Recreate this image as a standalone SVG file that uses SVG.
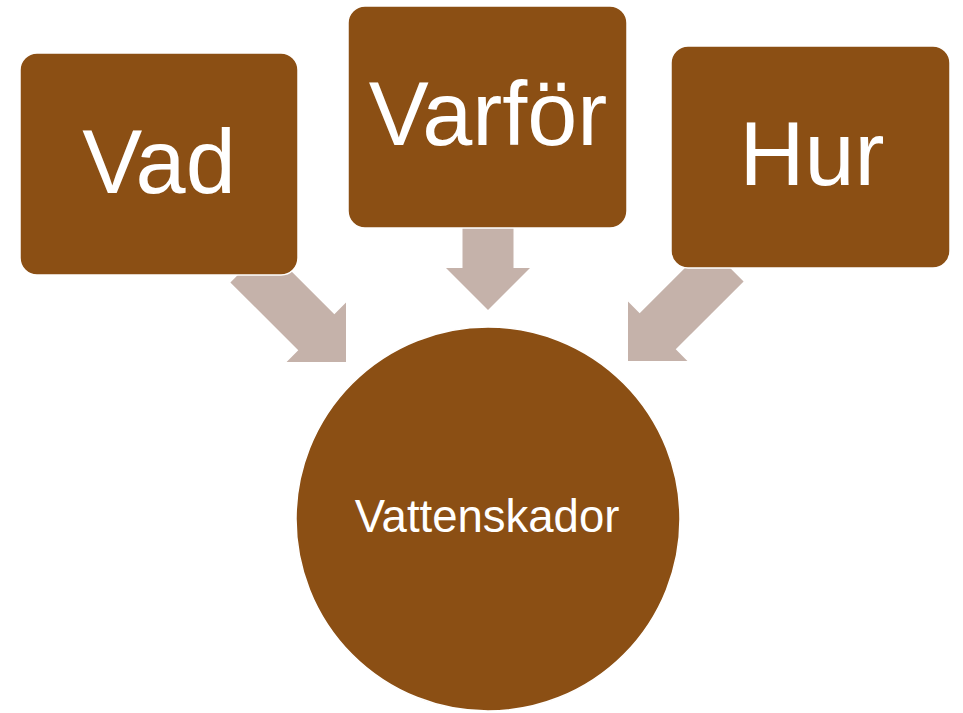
<svg xmlns="http://www.w3.org/2000/svg" width="963" height="713" viewBox="0 0 963 713">
  <defs>
    <style>
      .box { fill: #8B4F14; stroke: #FFFFFF; stroke-width: 1.5; }
      .arrow { fill: #C5B2AA; }
      .big { font-family: "Liberation Sans", Arial, sans-serif; font-size: 90px; fill: #FFFFFF; text-anchor: middle; }
      .mid { font-family: "Liberation Sans", Arial, sans-serif; font-size: 45.5px; fill: #FFFFFF; text-anchor: middle; }
    </style>
    <path id="arr" d="M0,-25.5 L96,-25.5 L96,-42 L138,0 L96,42 L96,25.5 L0,25.5 Z"/>
  </defs>
  <rect width="963" height="713" fill="#FFFFFF"/>
  <g id="connectors">
    <use href="#arr" class="arrow" transform="translate(346,362) rotate(45) translate(-138,0)"/>
    <use href="#arr" class="arrow" transform="translate(488,310) rotate(90) translate(-138,0)"/>
    <use href="#arr" class="arrow" transform="translate(628,361) rotate(135) translate(-138,0)"/>
  </g>
  <g id="node-vad">
    <rect class="box" x="20" y="53" width="278" height="222" rx="17"/>
    <text class="big" x="159" y="193">Vad</text>
  </g>
  <g id="node-varfor">
    <rect class="box" x="348" y="6" width="279" height="222" rx="17"/>
    <text class="big" x="488" y="145">Varför</text>
  </g>
  <g id="node-hur">
    <rect class="box" x="671" y="46" width="279" height="222" rx="17"/>
    <text class="big" x="812" y="185">Hur</text>
  </g>
  <g id="node-vattenskador">
    <circle class="box" cx="488" cy="519" r="192"/>
    <text class="mid" x="487" y="532">Vattenskador</text>
  </g>
</svg>
